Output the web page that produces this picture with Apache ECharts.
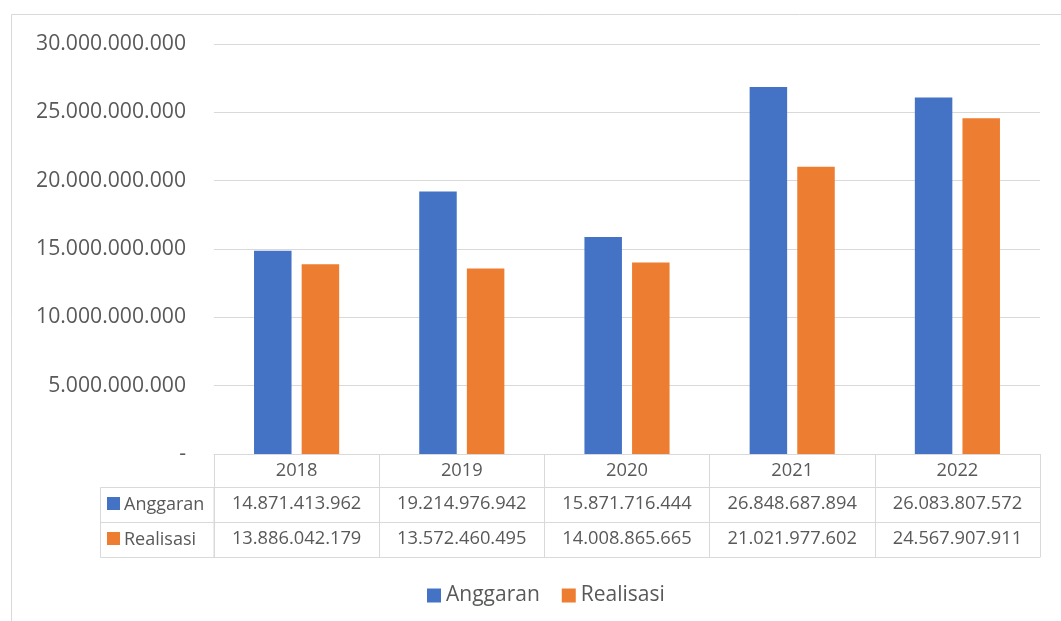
<!DOCTYPE html>
<html>
<head>
<meta charset="utf-8">
<script src="https://cdn.jsdelivr.net/npm/echarts@6/dist/echarts.min.js"></script>
<style>html,body{margin:0;padding:0;background:#fff}#c{width:1061px;height:621px}</style>
</head>
<body>
<div id="c"></div>
<script>
const years = ['2018', '2019', '2020', '2021', '2022'];
const anggaran = [14871413962, 19214976942, 15871716444, 26848687894, 26083807572];
const realisasi = [13886042179, 13572460495, 14008865665, 21021977602, 24567907911];
const seriesNames = ['Anggaran', 'Realisasi'];
const colors = ['#4472C4', '#ED7D31'];

function fmt(v) {
  if (v === 0) return '-';
  return String(Math.round(v)).replace(/\B(?=(\d{3})+(?!\d))/g, '.');
}

const FONT = 'Open Sans';
const TXT = '#595959';
const LINE = '#d9d9d9';

const chart = echarts.init(document.getElementById('c'));

function tableAxis(data, offset, tickLen, showLabel) {
  return {
    type: 'category',
    gridIndex: 0,
    position: 'bottom',
    offset: offset,
    data: data,
    boundaryGap: true,
    axisLine: { show: true, lineStyle: { color: LINE, width: 1 } },
    axisTick: { show: tickLen > 0, interval: 0, length: tickLen, inside: false, alignWithLabel: false, lineStyle: { color: LINE, width: 1 } },
    axisLabel: { show: showLabel, interval: 0, margin: 17, verticalAlign: 'middle', color: TXT, fontFamily: FONT, fontSize: 18.3 },
    splitLine: { show: false }
  };
}

chart.setOption({
  animation: false,
  backgroundColor: '#fff',
  textStyle: { fontFamily: FONT },
  grid: { left: 214, right: 21, top: 44, bottom: 167, containLabel: false },
  legend: {
    left: 427, top: 585, padding: 0,
    itemWidth: 14, itemHeight: 14, itemGap: 22,
    icon: 'rect',
    textStyle: { color: TXT, fontFamily: FONT, fontSize: 21 },
    data: seriesNames
  },
  xAxis: [
    tableAxis(years, 0, 33, true),
    tableAxis(anggaran.map(fmt), 33, 35, true),
    tableAxis(realisasi.map(fmt), 68, 35, true),
    tableAxis(years, 103, 0, false)
  ],
  yAxis: {
    type: 'value',
    min: 0, max: 30000000000, interval: 5000000000,
    axisLine: { show: false },
    axisTick: { show: false },
    splitLine: { show: true, lineStyle: { color: LINE, width: 1 } },
    axisLabel: { margin: 28, color: TXT, fontFamily: FONT, fontSize: 21.2, formatter: fmt }
  },
  series: [
    { name: seriesNames[0], type: 'bar', xAxisIndex: 0, data: anggaran, barWidth: '22.7%', barGap: '27%', itemStyle: { color: colors[0] } },
    { name: seriesNames[1], type: 'bar', xAxisIndex: 0, data: realisasi, barWidth: '22.7%', barGap: '27%', itemStyle: { color: colors[1] } }
  ],
  graphic: [
    { type: 'rect', silent: true, shape: { x: 11.5, y: 14.5, width: 1200, height: 700 }, style: { fill: 'none', stroke: LINE, lineWidth: 1 } },
    { type: 'rect', silent: true, shape: { x: 100.5, y: 487.5, width: 113.5, height: 35 }, style: { fill: 'none', stroke: LINE, lineWidth: 1 } },
    { type: 'rect', silent: true, shape: { x: 100.5, y: 522.5, width: 113.5, height: 35 }, style: { fill: 'none', stroke: LINE, lineWidth: 1 } },
    { type: 'rect', silent: true, shape: { x: 107, y: 497, width: 13, height: 13 }, style: { fill: colors[0] } },
    { type: 'rect', silent: true, shape: { x: 107, y: 532, width: 13, height: 13 }, style: { fill: colors[1] } },
    { type: 'text', silent: true, x: 124, y: 504.5, style: { text: seriesNames[0], fill: TXT, font: '18px "Open Sans"', verticalAlign: 'middle', align: 'left' } },
    { type: 'text', silent: true, x: 124, y: 539.5, style: { text: seriesNames[1], fill: TXT, font: '18px "Open Sans"', verticalAlign: 'middle', align: 'left' } }
  ]
});
</script>
</body>
</html>
